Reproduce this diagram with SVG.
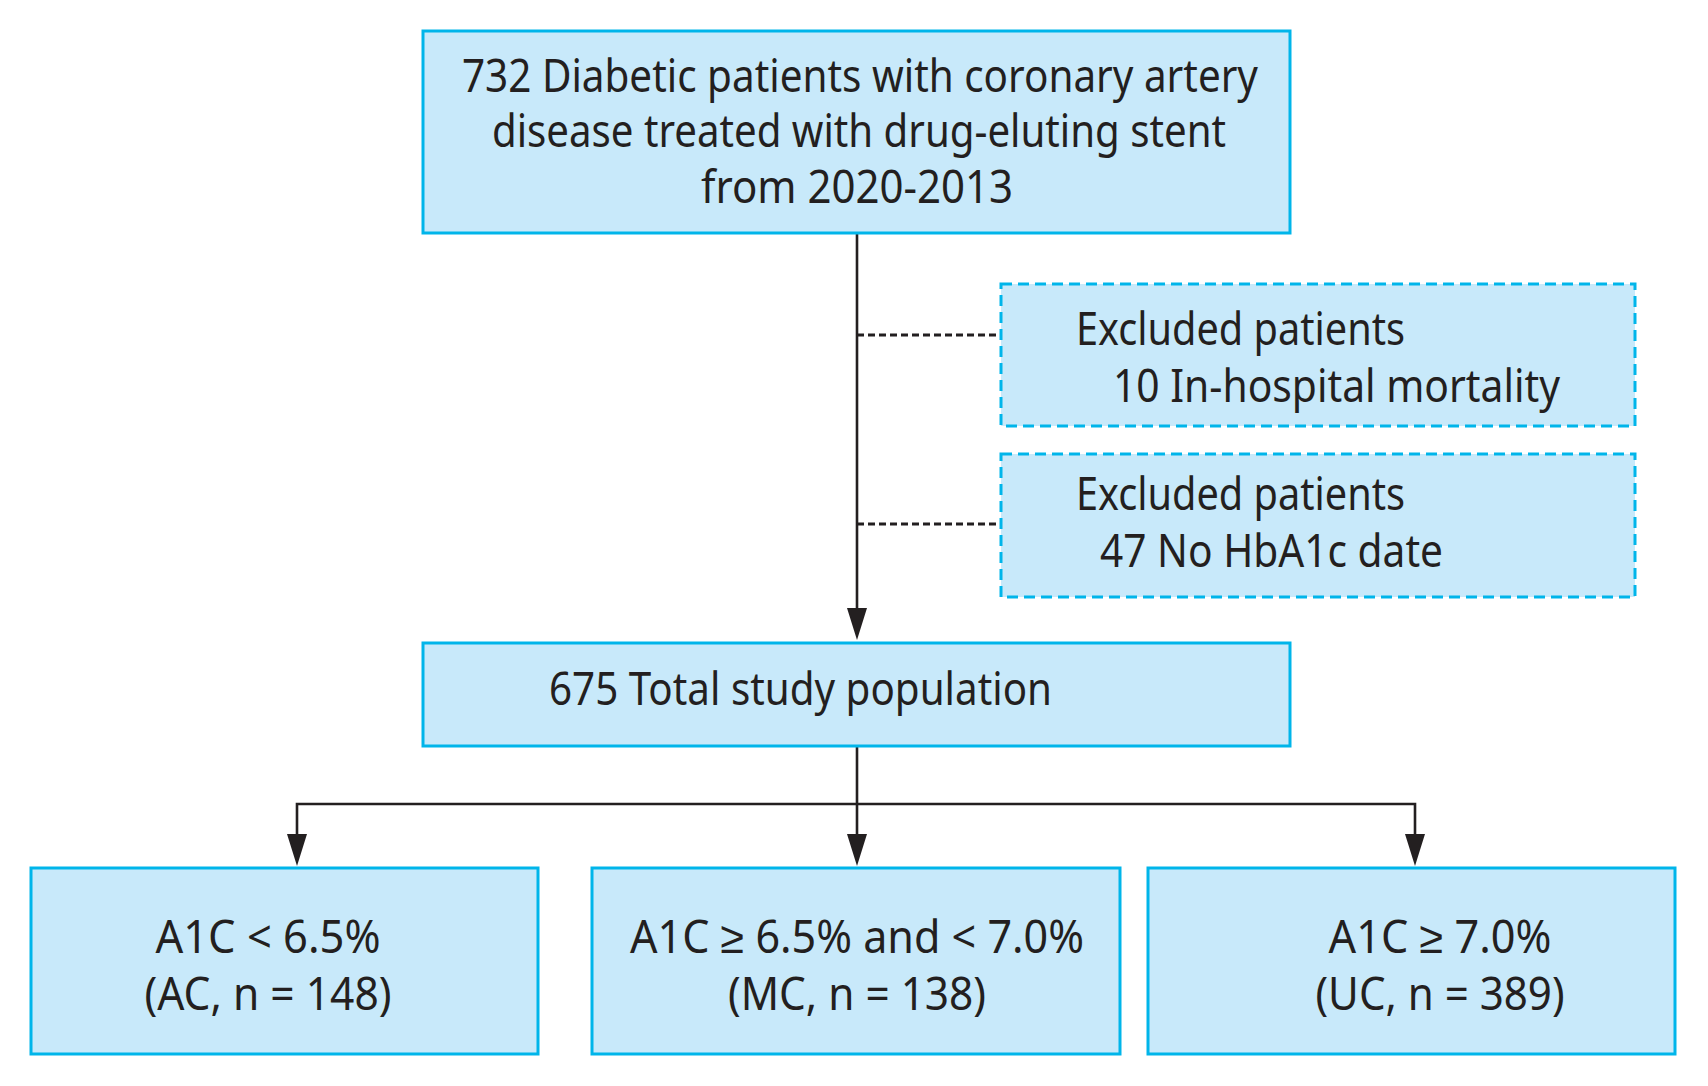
<svg xmlns="http://www.w3.org/2000/svg" width="1708" height="1086" viewBox="0 0 1708 1086">
<style>
.box{fill:#c8e9fa;stroke:#00b5ea;stroke-width:3}
.dbox{fill:#c8e9fa;stroke:#00b5ea;stroke-width:3;stroke-dasharray:11 6}
.t{font-family:"Noto Sans","Liberation Sans",sans-serif;font-size:45px;fill:#231f20}
.ln{stroke:#231f20;stroke-width:2.6;fill:none}
.dot{stroke:#231f20;stroke-width:3;fill:none;stroke-dasharray:7 4}
.ah{fill:#231f20}
</style>
<rect width="1708" height="1086" fill="#ffffff"/>
<g id="connectors">
<line class="ln" x1="857" y1="233" x2="857" y2="608"/>
<path class="ah" d="M847,608 L867,608 L857,640 Z"/>
<line class="dot" x1="857" y1="335" x2="1000" y2="335"/>
<line class="dot" x1="857" y1="524" x2="1000" y2="524"/>
<line class="ln" x1="857" y1="746" x2="857" y2="834"/>
<polyline class="ln" points="297,834 297,804 1415,804 1415,834"/>
<path class="ah" d="M287,834 L307,834 L297,866 Z"/>
<path class="ah" d="M847,834 L867,834 L857,866 Z"/>
<path class="ah" d="M1405,834 L1425,834 L1415,866 Z"/>
</g>
<g id="n_top">
<rect class="box" x="423" y="31" width="867" height="202"/>
<text class="t" x="860" y="92" text-anchor="middle" textLength="796" lengthAdjust="spacingAndGlyphs">732 Diabetic patients with coronary artery</text>
<text class="t" x="859" y="147" text-anchor="middle" textLength="734" lengthAdjust="spacingAndGlyphs">disease treated with drug-eluting stent</text>
<text class="t" x="857" y="203" text-anchor="middle" textLength="312" lengthAdjust="spacingAndGlyphs">from 2020-2013</text>
</g>
<g id="n_ex1">
<rect class="dbox" x="1001" y="284" width="634" height="142"/>
<text class="t" x="1076" y="345" textLength="329" lengthAdjust="spacingAndGlyphs">Excluded patients</text>
<text class="t" x="1113" y="402" textLength="447" lengthAdjust="spacingAndGlyphs">10 In-hospital mortality</text>
</g>
<g id="n_ex2">
<rect class="dbox" x="1001" y="454" width="634" height="143"/>
<text class="t" x="1076" y="510" textLength="329" lengthAdjust="spacingAndGlyphs">Excluded patients</text>
<text class="t" x="1100" y="567" textLength="343" lengthAdjust="spacingAndGlyphs">47 No HbA1c date</text>
</g>
<g id="n_total">
<rect class="box" x="423" y="643" width="867" height="103"/>
<text class="t" x="549" y="705" textLength="503" lengthAdjust="spacingAndGlyphs">675 Total study population</text>
</g>
<g id="n_ac">
<rect class="box" x="31" y="868" width="507" height="186"/>
<text class="t" x="268" y="953" text-anchor="middle" textLength="225" lengthAdjust="spacingAndGlyphs">A1C &lt; 6.5%</text>
<text class="t" x="268" y="1010" text-anchor="middle" textLength="247" lengthAdjust="spacingAndGlyphs">(AC, n = 148)</text>
</g>
<g id="n_mc">
<rect class="box" x="592" y="868" width="528" height="186"/>
<text class="t" x="857" y="953" text-anchor="middle" textLength="454" lengthAdjust="spacingAndGlyphs">A1C ≥ 6.5% and &lt; 7.0%</text>
<text class="t" x="857" y="1010" text-anchor="middle" textLength="258" lengthAdjust="spacingAndGlyphs">(MC, n = 138)</text>
</g>
<g id="n_uc">
<rect class="box" x="1148" y="868" width="527" height="186"/>
<text class="t" x="1440" y="953" text-anchor="middle" textLength="223" lengthAdjust="spacingAndGlyphs">A1C ≥ 7.0%</text>
<text class="t" x="1440" y="1010" text-anchor="middle" textLength="249" lengthAdjust="spacingAndGlyphs">(UC, n = 389)</text>
</g>
</svg>
